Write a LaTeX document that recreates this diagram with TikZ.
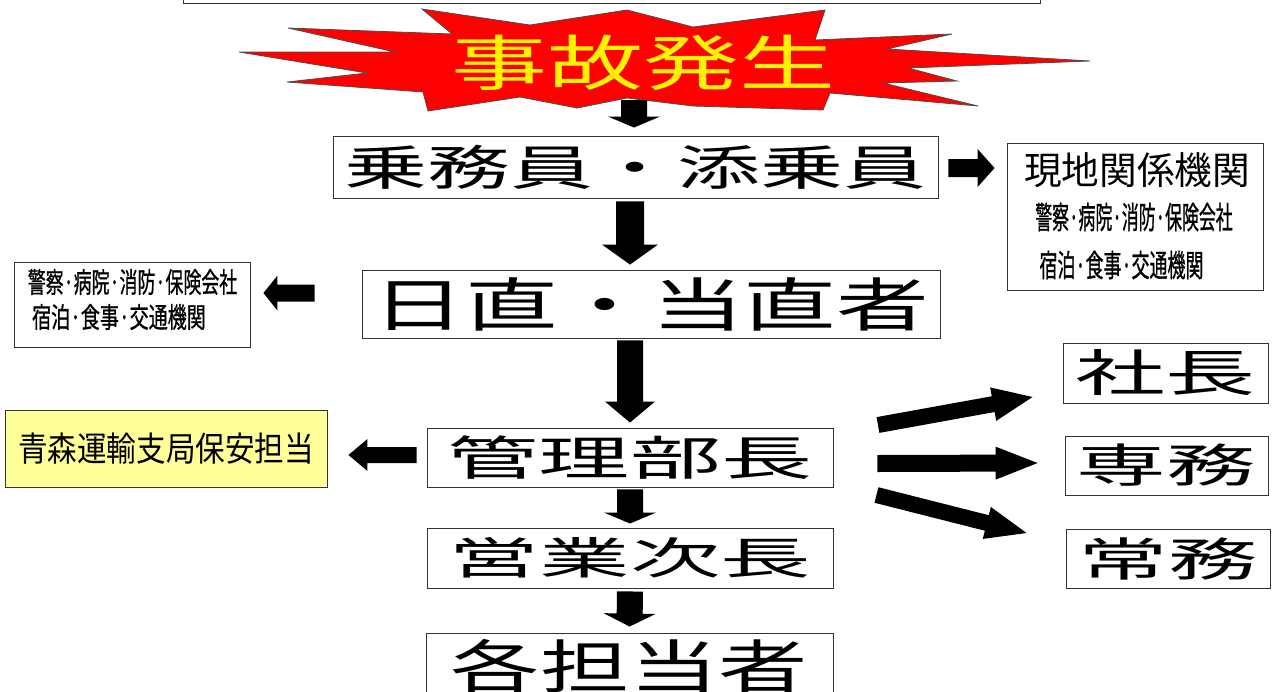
\documentclass[tikz,border=0pt]{standalone}
\usepackage{fontspec}
\usepackage{graphicx}
\newfontfamily\jp{Noto Sans CJK JP}
\newfontfamily\jpb[FakeBold=1]{Noto Sans CJK JP}
\usetikzlibrary{calc}
\newcommand{\blockarr}[5]{%
  \coordinate (ba-s) at (#1);
  \coordinate (ba-t) at (#2);
  \coordinate (ba-h) at ($(ba-t)!#5!(ba-s)$);
  \fill[black] ($(ba-s)!#3!90:(ba-t)$) -- ($(ba-h)!#3!90:(ba-t)$) -- ($(ba-h)!#4!90:(ba-t)$) -- (ba-t)
     -- ($(ba-h)!#4!-90:(ba-t)$) -- ($(ba-h)!#3!-90:(ba-t)$) -- ($(ba-s)!#3!-90:(ba-t)$) -- cycle;
}
\newcommand{\sx}[3]{{\fontsize{#1}{#1}\selectfont\scalebox{#2}[1]{#3}}}
\begin{document}
\begin{tikzpicture}[x=1pt,y=-1pt,
  box/.style={draw=black!80, line width=0.9pt, inner sep=0pt, font=\jp, text=black},
  small/.style={font=\jpb, inner sep=0pt}]
\useasboundingbox (0,0) rectangle (1274,691);
% top partial box
\node[box, minimum width=857pt, minimum height=23.5pt] (top) at (611.5,-8.25) {};
% starburst
\draw[fill=red, draw=black!70, line width=0.8pt, line join=miter]
 (239,52) -- (395,52) -- (288,28) -- (452,34) -- (422,9) -- (530,25) -- (627,10) -- (693,27)
 -- (825,10) -- (815,40) -- (952,34) -- (887,49) -- (1090,61) -- (908,68) -- (957,81)
 -- (883,83) -- (978,106) -- (830,93) -- (823,110) -- (693,106) -- (627,98) -- (577,108)
 -- (520,97) -- (428,111) -- (423,92) -- (287,82) -- (367,73) -- cycle;
\node[font=\jp, text=yellow, inner sep=0pt] (title) at (643,63) {\sx{60}{1.6}{事故発生}};
\coordinate (bst) at (634,100);
% main column
\node[box, minimum width=605pt, minimum height=62pt] (b1) at (635.5,167) {\sx{48}{1.73}{乗務員・添乗員}};
\node[box, minimum width=578pt, minimum height=68pt] (b2) at (651,304) {\sx{58}{1.6}{日直・当直者}};
\node[box, minimum width=406pt, minimum height=59pt] (b3) at (630,457.5) {\sx{47}{1.94}{管理部長}};
\node[box, minimum width=406pt, minimum height=60pt] (b4) at (630,558) {\sx{44}{2.06}{営業次長}};
\node[box, minimum width=407pt, minimum height=67pt] (b5) at (629.5,666.5) {\sx{58}{1.54}{各担当者}};
% side boxes
\node[box, minimum width=256pt, minimum height=147pt] (R) at (1135,216.5) {};
\node[font=\jp, inner sep=0pt] (Rt) at (1137,170) {\sx{38}{0.99}{現地関係機関}};
\node[small] (R2) at (1134,217) {\sx{31}{0.545}{警察·病院·消防·保険会社}};
\node[small] (R3) at (1121.5,265) {\sx{31}{0.58}{宿泊·食事·交通機関}};
\node[box, minimum width=236pt, minimum height=85pt] (L) at (132,304.5) {};
\node[small] (L1) at (132.5,282) {\sx{28}{0.64}{警察·病院·消防·保険会社}};
\node[small] (L2) at (119,317) {\sx{28}{0.68}{宿泊·食事·交通機関}};
\node[box, fill={rgb,255:red,255;green,255;blue,153}, minimum width=322pt, minimum height=77pt] (Y) at (166,448.5) {\sx{34}{0.87}{青森運輸支局保安担当}};
\node[box, minimum width=205pt, minimum height=60pt] (S1) at (1165.5,373) {\sx{50}{1.8}{社長}};
\node[box, minimum width=203pt, minimum height=59pt] (S2) at (1166.5,465.5) {\sx{46}{1.95}{専務}};
\node[box, minimum width=204pt, minimum height=59pt] (S3) at (1168,558.5) {\sx{46}{1.95}{常務}};
% arrows
\blockarr{bst}{$(bst |- b1.north)+(0,-8)$}{13pt}{26pt}{11pt}
\blockarr{$(b1.south -| b3.north)+(0,3)$}{$(b2.north -| b3.north)+(0,-5)$}{14pt}{28pt}{20pt}
\blockarr{$(b2.south -| b3.north)+(0,2)$}{$(b3.north)+(0,-5)$}{13pt}{25pt}{21pt}
\blockarr{$(b3.south)+(0,2)$}{$(b4.north)+(0,-4)$}{13pt}{26pt}{11pt}
\blockarr{$(b4.south)+(0,3)$}{$(b5.north)+(0,-6)$}{13pt}{26pt}{13pt}
\blockarr{$(b1.east)+(10,1)$}{$(R.west |- b1.east)+(-12,1)$}{9pt}{19pt}{17pt}
\blockarr{$(b2.west)+(-47,-11)$}{$(L.east)+(13,-11.5)$}{8.5pt}{17.5pt}{14pt}
\blockarr{$(b3.west)+(-10,-2.5)$}{$(Y.east)+(21,6.5)$}{8pt}{16pt}{19pt}
\blockarr{$(b3.east)+(44.5,-32.5)$}{$(S1.west)+(-30,24)$}{8pt}{17pt}{40pt}
\blockarr{$(b3.east)+(44,6)$}{$(S2.west)+(-27,-2.5)$}{8.5pt}{16.5pt}{42pt}
\blockarr{$(b3.east)+(43,37.5)$}{$(S3.west)+(-39,-25.5)$}{8pt}{16.5pt}{41pt}
\end{tikzpicture}
\end{document}
